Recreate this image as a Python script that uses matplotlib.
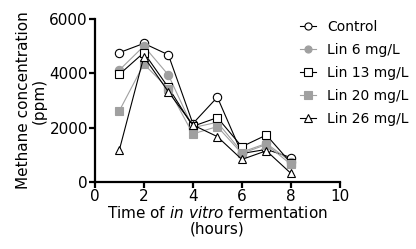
import matplotlib
matplotlib.use("Agg")
import matplotlib.pyplot as plt

hours = [1, 2, 3, 4, 5, 6, 7, 8]
control = [4760, 5100, 4680, 2150, 3120, 1050, 1200, 900]
lin6 = [4120, 5000, 3940, 2000, 2200, 1100, 1420, 750]
lin13 = [3960, 4760, 3480, 2050, 2370, 1300, 1730, 700]
lin20 = [2620, 4340, 3440, 1770, 2040, 1050, 1380, 650]
lin26 = [1180, 4610, 3320, 2100, 1670, 830, 1150, 320]
labels = ["Control", "Lin 6 mg/L", "Lin 13 mg/L", "Lin 20 mg/L", "Lin 26 mg/L"]

plt.rcParams['font.family'] = ['DejaVu Sans']
fig = plt.figure(figsize=(4.16, 2.49), dpi=100)
ax = fig.add_axes([0.228, 0.269, 0.589, 0.655])

gray = "#a0a0a0"
styles = [
    dict(color="black", marker="o", mfc="white", mec="black"),
    dict(color=gray, marker="o", mfc=gray, mec=gray),
    dict(color="black", marker="s", mfc="white", mec="black"),
    dict(color=gray, marker="s", mfc=gray, mec=gray),
    dict(color="black", marker="^", mfc="white", mec="black"),
]
series = [control, lin6, lin13, lin20, lin26]
for ys, lab, st in zip(series, labels, styles):
    ax.plot(hours, ys, label=lab, lw=0.8, ms=6, mew=0.8, **st)

ax.set_xlim(0, 10)
ax.set_ylim(0, 6000)
ax.set_xticks([0, 2, 4, 6, 8, 10])
ax.set_yticks([0, 2000, 4000, 6000])
for s in ["top", "right"]:
    ax.spines[s].set_visible(False)
for s in ["left", "bottom"]:
    ax.spines[s].set_linewidth(1.6)
ax.tick_params(width=1.6, length=4, labelsize=11, pad=1)
ax.set_xlabel("Time of $\\it{in\\ vitro}$ fermentation\n(hours)", fontsize=11, labelpad=1, linespacing=1.05)
ax.set_ylabel("Methane concentration\n(ppm)", fontsize=11, labelpad=2, linespacing=1.05)

leg = fig.legend(loc="upper left", bbox_to_anchor=(0.69, 0.97), frameon=False,
                 fontsize=10, handlelength=1.2, handletextpad=0.8, labelspacing=0.65,
                 markerscale=0.85)
fig.savefig("out.png", dpi=100)
